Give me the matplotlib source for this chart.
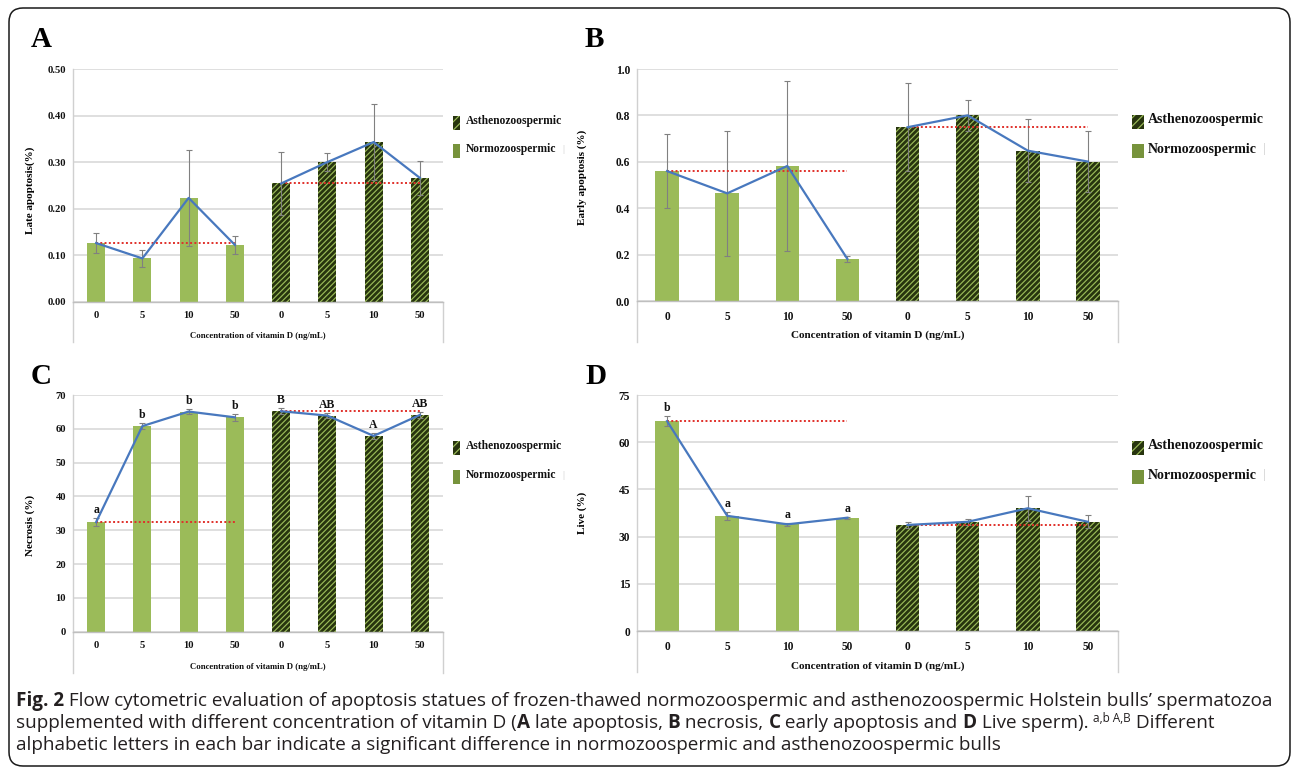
import matplotlib
matplotlib.use('Agg')
import matplotlib.pyplot as plt
from matplotlib import font_manager as fm
from matplotlib.patches import Rectangle, FancyBboxPatch
from matplotlib.lines import Line2D
from matplotlib.transforms import Affine2D
import numpy as np

# ---------------- data ----------------
concentrations = ['0', '5', '10', '50', '0', '5', '10', '50']

late_apoptosis = [0.126, 0.093, 0.223, 0.122, 0.254, 0.300, 0.343, 0.266]
late_apoptosis_sd = [0.021, 0.018, 0.104, 0.020, 0.067, 0.020, 0.081, 0.037]

early_apoptosis = [0.560, 0.464, 0.582, 0.181, 0.749, 0.800, 0.648, 0.601]
early_apoptosis_sd = [0.158, 0.270, 0.367, 0.014, 0.189, 0.066, 0.136, 0.132]

necrosis = [32.4, 60.8, 65.1, 63.4, 65.2, 63.9, 57.9, 64.1]
necrosis_sd = [1.1, 1.0, 0.8, 1.1, 0.9, 0.8, 0.8, 0.9]
necrosis_letters = ['a', 'b', 'b', 'b', 'B', 'AB', 'A', 'AB']

live = [66.7, 36.6, 33.9, 36.0, 33.7, 34.7, 39.0, 34.7]
live_sd = [1.5, 1.3, 0.5, 0.3, 1.0, 1.0, 3.9, 2.1]
live_letters = ['b', 'a', 'a', 'a', '', '', '', '']

legend_labels = ['Asthenozoospermic', 'Normozoospermic']
xlabel_text = 'Concentration of vitamin D (ng/mL)'

# ---------------- style ----------------
W, H, DPI = 1292, 772, 100
GREEN = '#9BBB59'
GREEN_DARK = '#77933C'
HATCH_BG = '#27340e'
HATCH_FG = '#9BBB59'
BLUE = '#4878BE'
RED = '#E0302A'
ERR = '#808080'
GRID = '#D9D9D9'

plt.rcParams['font.family'] = ['Liberation Serif', 'DejaVu Serif']
plt.rcParams['font.weight'] = 'bold'
plt.rcParams['hatch.linewidth'] = 0.85

fig = plt.figure(figsize=(W / DPI, H / DPI), dpi=DPI)
fig.patch.set_facecolor('white')
PX = Affine2D().scale(1, -1).translate(0, H)  # top-left pixel coords -> display
renderer = fig.canvas.get_renderer()


def rect_px(l, t, r, b):
    return [l / W, (H - b) / H, (r - l) / W, (b - t) / H]


def panel(rect, vals, sds, ymax, step, fmt, ylabel, ylab_pos, tick_fs, xlab_fs,
          notes=None):
    ax = fig.add_axes(rect)
    x = np.arange(len(vals))
    vals = np.asarray(vals)
    ax.bar(x[:4], vals[:4], width=0.39, color=GREEN, linewidth=0, zorder=2)
    ax.bar(x[4:], vals[4:], width=0.39, facecolor=HATCH_BG, edgecolor=HATCH_FG,
           hatch='//////', linewidth=0, zorder=2)
    ax.errorbar(x, vals, yerr=sds, fmt='none', ecolor=ERR, elinewidth=0.8,
                capsize=2.2, capthick=0.8, zorder=3)
    # control reference lines
    ax.plot(x[:4], [vals[0]] * 4, color=RED, lw=1.4, ls=(0, (1, 1.2)), zorder=4)
    ax.plot(x[4:], [vals[4]] * 4, color=RED, lw=1.4, ls=(0, (1, 1.2)), zorder=4)
    ax.plot(x[:4], vals[:4], color=BLUE, lw=1.6, zorder=5)
    ax.plot(x[4:], vals[4:], color=BLUE, lw=1.6, zorder=5)
    if notes is not None:
        for i, (v, s, n) in enumerate(zip(vals, sds, notes)):
            if n:
                ax.annotate(n, (i, v + s), xytext=(0, 1.5), textcoords='offset points',
                            ha='center', va='bottom', fontsize=8.5,
                            fontweight='bold', color='#111111', zorder=6)
    ax.set_xlim(-0.5, 7.5)
    ax.set_ylim(0, ymax)
    ticks = np.arange(0, ymax + step / 2, step)
    ax.set_yticks(ticks)
    ax.set_yticklabels([fmt.format(t) for t in ticks], fontsize=tick_fs,
                       fontweight='bold')
    ax.set_xticks(x)
    ax.set_xticklabels(concentrations, fontsize=tick_fs, fontweight='bold')
    ax.tick_params(axis='both', length=0, colors='#111111')
    ax.tick_params(axis='y', pad=5)
    ax.tick_params(axis='x', pad=7)
    ax.yaxis.grid(True, color=GRID, lw=1.2, zorder=0)
    ax.set_axisbelow(True)
    for s in ['top', 'right']:
        ax.spines[s].set_visible(False)
    ax.spines['left'].set_color('#D0D0D0')
    ax.spines['bottom'].set_color('#BFBFBF')
    ax.spines['left'].set_linewidth(1.0)
    ax.spines['bottom'].set_linewidth(1.0)
    ext = 0.175
    ax.add_line(Line2D([0, 0], [0, -ext], transform=ax.transAxes, color='#D0D0D0',
                       lw=1.0, clip_on=False))
    ax.add_line(Line2D([1, 1], [0, -ext], transform=ax.transAxes, color='#D0D0D0',
                       lw=1.0, clip_on=False))
    ax.set_ylabel(ylabel, fontsize=8, fontweight='bold')
    ax.yaxis.set_label_coords(*ylab_pos)
    ax.text(0.5, -0.148, xlabel_text, transform=ax.transAxes, ha='center',
            va='center', fontsize=xlab_fs, fontweight='bold', color='#111111')
    return ax


panel(rect_px(73, 69, 443, 301.7), late_apoptosis, late_apoptosis_sd, 0.5, 0.1,
      '{:.2f}', 'Late apoptosis(%)', (-0.103, 0.477), 7.6, 6.3)
panel(rect_px(637, 69, 1118, 301), early_apoptosis, early_apoptosis_sd, 1.0, 0.2,
      '{:.1f}', 'Early apoptosis (%)', (-0.104, 0.534), 8.3, 8.1)
panel(rect_px(73, 395, 443, 631.7), necrosis, necrosis_sd, 70, 10,
      '{:.0f}', 'Necrosis (%)', (-0.103, 0.45), 7.6, 6.3, necrosis_letters)
panel(rect_px(637, 395, 1118, 631), live, live_sd, 75, 15,
      '{:.0f}', 'Live (%)', (-0.104, 0.5), 8.3, 8.1, live_letters)

# ---------------- legends ----------------
def legend(sq_x, sq_w, text_x, y1, y2, fs):
    for k, (yc, lab) in enumerate(zip([y1, y2], legend_labels)):
        if k == 0:
            r = Rectangle((sq_x, H - (yc + 9)), sq_w, 14, transform=None,
                          facecolor=HATCH_BG, edgecolor=HATCH_FG, hatch='////',
                          linewidth=0)
        else:
            r = Rectangle((sq_x, H - (yc + 9)), sq_w, 14, transform=None,
                          facecolor=GREEN_DARK, linewidth=0)
        fig.add_artist(r)
        t = fig.text(text_x, yc, lab, transform=PX, fontsize=fs, fontweight='bold',
                     ha='left', va='center', color='#111111')
        if k == 1:
            wdt = t.get_window_extent(renderer).width
            fig.text(text_x + wdt + 6, yc, '|', transform=PX, fontsize=fs * 0.9,
                     color='#C8C8C8', ha='left', va='center', fontweight='normal')


legend(453, 7, 466, 121, 149, 8.3)
legend(1132, 12, 1148, 120, 149, 10)
legend(453, 7, 466, 446, 475, 8.3)
legend(1132, 12, 1148, 446, 475, 10)

# ---------------- panel letters ----------------
for letter, (lx, ly) in zip(['A', 'B', 'C', 'D'],
                            [(31, 47), (585, 47), (31, 384), (585, 384)]):
    fig.text(lx, ly, letter, transform=PX, fontsize=21, fontweight='bold',
             ha='left', va='baseline', color='#000000')

# ---------------- caption ----------------
def pick_font(cands):
    for c in cands:
        try:
            fm.findfont(fm.FontProperties(family=c), fallback_to_default=False)
            return c
        except Exception:
            continue
    return 'DejaVu Sans'


CAP_FONT = pick_font(['Liberation Sans Narrow', 'Open Sans', 'Noto Sans'])
CAP_COLOR = '#231F20'

line1 = [('Fig. 2', True, 1.0, 0),
         (' Flow cytometric evaluation of apoptosis statues of frozen-thawed normozoospermic '
          'and asthenozoospermic Holstein bulls\u2019 spermatozoa', False, 1.0, 0)]
line2 = [('supplemented with different concentration of vitamin D (', False, 1.0, 0),
         ('A', True, 1.0, 0), (' late apoptosis, ', False, 1.0, 0),
         ('B', True, 1.0, 0), (' necrosis, ', False, 1.0, 0),
         ('C', True, 1.0, 0), (' early apoptosis and ', False, 1.0, 0),
         ('D', True, 1.0, 0), (' Live sperm). ', False, 1.0, 0),
         ('a,b A,B', False, 0.62, 6), (' Different', False, 1.0, 0)]
line3 = [('alphabetic letters in each bar indicate a significant difference in '
          'normozoospermic and asthenozoospermic bulls', False, 1.0, 0)]


def seg_width(text, fs, bold):
    kw = dict(transform=PX, fontsize=fs, family=CAP_FONT,
              fontweight='bold' if bold else 'normal')
    t1 = fig.text(0, 0, 'I' + text + 'I', **kw)
    t2 = fig.text(0, 0, 'II', **kw)
    w = t1.get_window_extent(renderer).width - t2.get_window_extent(renderer).width
    t1.remove()
    t2.remove()
    return w


def draw_line(segs, x, y, fs):
    for text, bold, sc, dy in segs:
        fig.text(x, y - dy, text, transform=PX, fontsize=fs * sc, family=CAP_FONT,
                 fontweight='bold' if bold else 'normal', color=CAP_COLOR,
                 ha='left', va='baseline')
        x += seg_width(text, fs * sc, bold)
    return x


base = 10.0
w1 = sum(seg_width(t, base * sc, b) for t, b, sc, dy in line1)
cap_fs = base * 1255.0 / w1
draw_line(line1, 16, 706, cap_fs)
draw_line(line2, 16, 728, cap_fs)
draw_line(line3, 16, 750, cap_fs)

# ---------------- outer rounded border ----------------
border = FancyBboxPatch((9, H - 766), 1281, 758, boxstyle='round,pad=0,rounding_size=14',
                        transform=None, facecolor='none', edgecolor='#1a1a1a',
                        linewidth=1.1)
fig.add_artist(border)

fig.savefig('out.png', dpi=DPI, facecolor='white')
